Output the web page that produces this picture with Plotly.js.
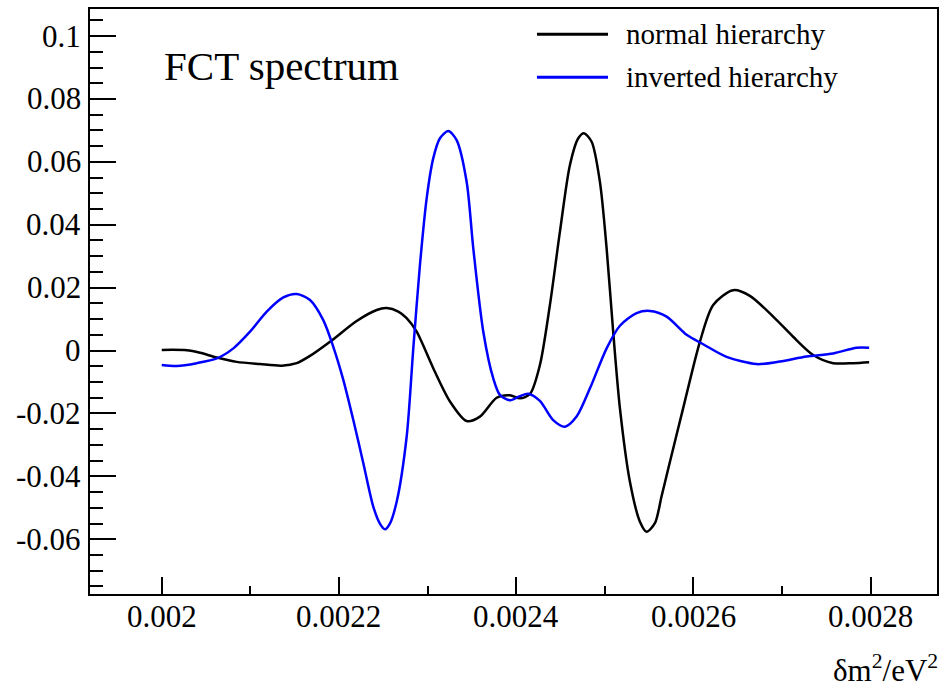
<!DOCTYPE html>
<html>
<head>
<meta charset="utf-8">
<script src="https://cdn.plot.ly/plotly-3.0.1.min.js"></script>
<style>
  html, body { margin: 0; padding: 0; background: #ffffff; }
  #chart { width: 945px; height: 689px; }
</style>
</head>
<body>
<div id="chart"></div>
<script>
// FCT spectrum of the two mass hierarchies versus delta m^2 (eV^2)
const seriesNames = ['normal hierarchy', 'inverted hierarchy'];
const seriesColors = ['#000000', '#0000ff'];

const normalX = [
  0.0020000, 0.0020282, 0.0020432, 0.0020621, 0.0020846, 0.0021109, 0.0021354,
  0.0021523, 0.0021673, 0.0021899, 0.0022200, 0.0022426, 0.0022539,
  0.0022670, 0.0022764, 0.0022877, 0.0023064, 0.0023253, 0.0023441, 0.0023591,
  0.0023780, 0.0023930, 0.0024043, 0.0024156, 0.0024268, 0.0024381, 0.0024494,
  0.0024607, 0.0024701, 0.0024765, 0.0024852, 0.0024945, 0.0025021, 0.0025095,
  0.0025171, 0.0025284, 0.0025397, 0.0025472, 0.0025566, 0.0025640, 0.0025720,
  0.0025885, 0.0026074, 0.0026224, 0.0026449, 0.0026638, 0.0026901, 0.0027126,
  0.0027352, 0.0027578, 0.0027803, 0.0027984
];
const normalY = [
  0.0002, 0.0001, -0.0007, -0.0022, -0.0036, -0.0043, -0.0048,
  -0.0040, -0.0017, 0.0028, 0.0094, 0.0129, 0.0135,
  0.0124, 0.0103, 0.0060, -0.0056, -0.0162, -0.0224, -0.0210,
  -0.0150, -0.0142, -0.0152, -0.0138, -0.0046, 0.0145, 0.0378,
  0.0590, 0.0675, 0.0691, 0.0664, 0.0537, 0.0325, 0.0060,
  -0.0183, -0.0417, -0.0544, -0.0576, -0.0549, -0.0465, -0.0372,
  -0.0183, 0.0028, 0.0145, 0.0192, 0.0174, 0.0108, 0.0044,
  -0.0014, -0.0040, -0.0040, -0.0037
];

const invertedX = [
  0.0020000, 0.0020169, 0.0020395, 0.0020621, 0.0020808, 0.0020996, 0.0021185,
  0.0021372, 0.0021523, 0.0021673, 0.0021823, 0.0021936, 0.0022049, 0.0022162,
  0.0022275, 0.0022387, 0.0022462, 0.0022519, 0.0022575, 0.0022652, 0.0022764,
  0.0022839, 0.0022914,
  0.0022990, 0.0023064, 0.0023140, 0.0023234, 0.0023328, 0.0023441, 0.0023516,
  0.0023629, 0.0023741, 0.0023817, 0.0023930, 0.0024043, 0.0024136, 0.0024268,
  0.0024418, 0.0024551, 0.0024682, 0.0024833, 0.0025021, 0.0025171, 0.0025359,
  0.0025509, 0.0025698, 0.0025924, 0.0026111, 0.0026375, 0.0026713, 0.0026976,
  0.0027278, 0.0027578, 0.0027842, 0.0027984
];
const invertedY = [
  -0.0046, -0.0049, -0.0040, -0.0025, 0.0007, 0.0060, 0.0124,
  0.0169, 0.0180, 0.0161, 0.0097, 0.0012, -0.0093, -0.0221,
  -0.0358, -0.0496, -0.0550, -0.0568, -0.0550, -0.0480, -0.0274,
  0.0007, 0.0272,
  0.0484, 0.0611, 0.0675, 0.0698, 0.0669, 0.0537, 0.0325,
  0.0060, -0.0088, -0.0141, -0.0158, -0.0145, -0.0137, -0.0160,
  -0.0221, -0.0242, -0.0210, -0.0120, 0.0007, 0.0079, 0.0119,
  0.0126, 0.0108, 0.0050, 0.0020, -0.0020, -0.0043, -0.0035,
  -0.0019, -0.0009, 0.0009, 0.0009
];

const xTickVals = [0.002, 0.0022, 0.0024, 0.0026, 0.0028];
const xTickText = ['0.002', '0.0022', '0.0024', '0.0026', '0.0028'];
const yTickVals = [-0.06, -0.04, -0.02, 0, 0.02, 0.04, 0.06, 0.08, 0.1];
const yTickText = ['-0.06', '-0.04', '-0.02', '0', '0.02', '0.04', '0.06', '0.08', '0.1'];

const plotTitle = 'FCT spectrum';
const xAxisLabel = 'δm<sup>2</sup>/eV<sup>2</sup>';

const serif = '"Liberation Serif", "Times New Roman", Times, serif';
const textFont = (size) => ({ family: serif, size: size, color: '#000' });

const traces = [
  { x: normalX, y: normalY, name: seriesNames[0] },
  { x: invertedX, y: invertedY, name: seriesNames[1] }
].map((t, i) => ({
  type: 'scatter', mode: 'lines', x: t.x, y: t.y, name: t.name,
  line: { color: seriesColors[i], width: 2.5, shape: 'spline', smoothing: 0.8 },
  showlegend: false, hoverinfo: 'x+y'
}));

// hand-placed legend: long line samples with labels beside them
const legendRows = [0.9568, 0.8832];
const shapes = legendRows.map((yy, i) => ({
  type: 'line', xref: 'paper', yref: 'paper',
  x0: 0.5277, x1: 0.6116, y0: yy, y1: yy,
  line: { color: seriesColors[i], width: 3 }
}));
const annotations = legendRows.map((yy, i) => ({
  xref: 'paper', yref: 'paper', x: 0.6305, y: yy,
  xanchor: 'left', yanchor: 'middle', showarrow: false,
  text: seriesNames[i], font: textFont(29)
}));
annotations.push({
  xref: 'paper', yref: 'paper', x: 0.085, y: 0.9026,
  xanchor: 'left', yanchor: 'middle', showarrow: false,
  text: plotTitle, font: textFont(41)
});
annotations.push({
  xref: 'paper', yref: 'paper', x: 1.0035, y: -0.128,
  xanchor: 'right', yanchor: 'middle', showarrow: false,
  text: xAxisLabel, font: textFont(31)
});
// serif tick labels, placed at the axis tick values
xTickVals.forEach((v, i) => annotations.push({
  xref: 'x', yref: 'paper', x: v, y: -0.0385,
  xanchor: 'center', yanchor: 'middle', showarrow: false,
  text: xTickText[i], font: textFont(31)
}));
yTickVals.forEach((v, i) => annotations.push({
  xref: 'paper', yref: 'y', x: -0.0083, y: v,
  xanchor: 'right', yanchor: 'middle', showarrow: false,
  text: yTickText[i], font: textFont(31)
}));

const layout = {
  width: 945, height: 689,
  margin: { l: 90, r: 8, t: 9, b: 95 },
  paper_bgcolor: '#ffffff', plot_bgcolor: '#ffffff',
  font: textFont(31),
  xaxis: {
    range: [0.001919, 0.002875],
    tickmode: 'array', tickvals: xTickVals, showticklabels: false,
    ticks: 'inside', ticklen: 17, tickwidth: 2, tickcolor: '#000',
    minor: { dtick: 0.0001, tick0: 0.002, ticks: 'inside', ticklen: 8, tickwidth: 2, tickcolor: '#000' },
    showline: true, linewidth: 2, linecolor: '#000', mirror: true,
    showgrid: false, zeroline: false
  },
  yaxis: {
    range: [-0.0774, 0.1086],
    tickmode: 'array', tickvals: yTickVals, showticklabels: false,
    ticks: 'inside', ticklen: 26, tickwidth: 2, tickcolor: '#000',
    minor: { dtick: 0.005, tick0: 0, ticks: 'inside', ticklen: 13, tickwidth: 2, tickcolor: '#000' },
    showline: true, linewidth: 2, linecolor: '#000', mirror: true,
    showgrid: false, zeroline: false
  },
  shapes: shapes,
  annotations: annotations,
  showlegend: false
};

Plotly.newPlot('chart', traces, layout, { displayModeBar: false, staticPlot: true });
</script>
</body>
</html>
